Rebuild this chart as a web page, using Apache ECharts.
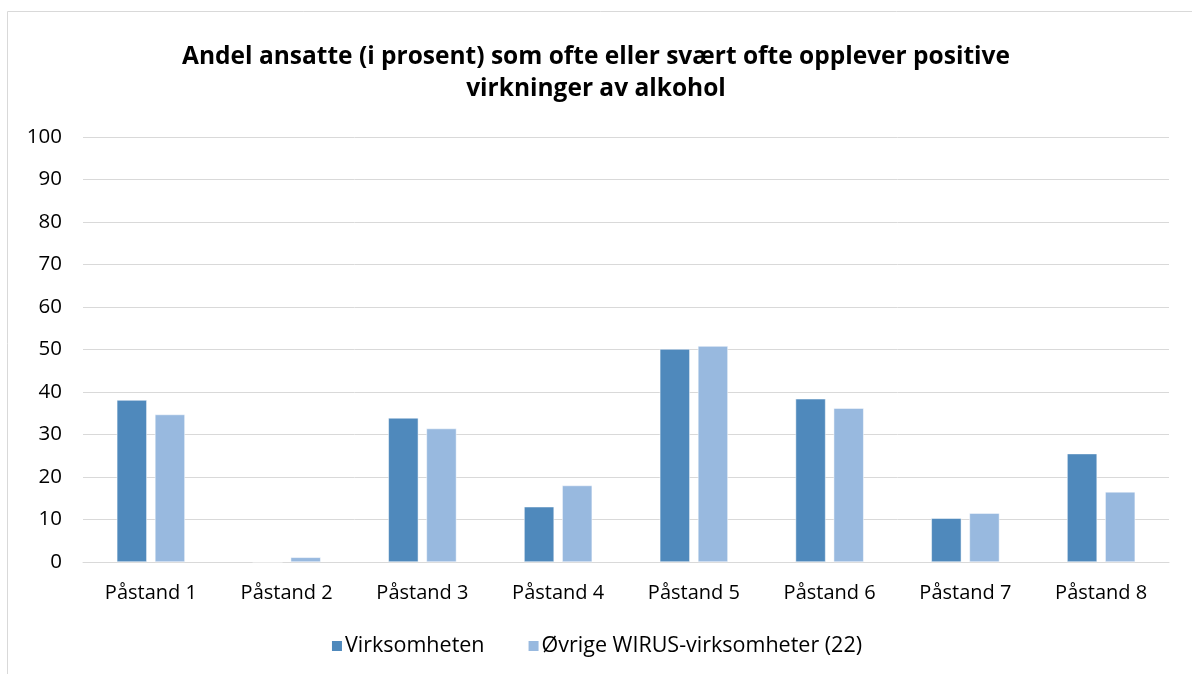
<!DOCTYPE html>
<html><head><meta charset="utf-8">
<script src="https://cdn.jsdelivr.net/npm/echarts@6/dist/echarts.min.js"></script>
<style>html,body{margin:0;padding:0;background:#fff}#c{width:1192px;height:674px}</style>
</head><body><div id="c"></div>
<script>
const categories = ['Påstand 1','Påstand 2','Påstand 3','Påstand 4','Påstand 5','Påstand 6','Påstand 7','Påstand 8'];
const virksomheten = [38.1, 0, 33.9, 13.0, 50.1, 38.4, 10.3, 25.5];
const ovrige = [34.7, 1.1, 31.4, 18.0, 50.8, 36.2, 11.5, 16.5];
const seriesNames = ['Virksomheten', 'Øvrige WIRUS-virksomheter (22)'];
const titleText = 'Andel ansatte (i prosent) som ofte eller svært ofte opplever positive\nvirkninger av alkohol';

const font = '"Open Sans", "Noto Sans", sans-serif';
const chart = echarts.init(document.getElementById('c'));
chart.setOption({
  animation: false,
  graphic: [{type:'rect', shape:{x:7.5,y:11.5,width:1200,height:700}, style:{fill:'none', stroke:'#d9d9d9', lineWidth:1}}],
  title: {text: titleText, left: 'center', top: 36,
    textStyle: {fontFamily: font, fontSize: 24.5, fontWeight: 'bold', color: '#000', lineHeight: 32}},
  legend: {bottom: 12, left: 'center', itemWidth: 12, itemHeight: 12, itemGap: 42,
    icon: 'rect',
    textStyle: {fontFamily: font, fontSize: 21.5, color: '#000', padding:[0,0,0,-3]}},
  grid: {left: 83, right: 23, top: 137, bottom: 112, containLabel: false},
  xAxis: {type: 'category', data: categories,
    axisLine: {lineStyle: {color: '#d9d9d9', width: 1}}, axisTick: {show: false},
    axisLabel: {fontFamily: font, fontSize: 20, color: '#000', margin: 21}},
  yAxis: {type: 'value', min: 0, max: 100, interval: 10,
    axisLine: {show: false}, axisTick: {show: false},
    splitLine: {lineStyle: {color: '#d9d9d9', width: 1}},
    axisLabel: {fontFamily: font, fontSize: 20.5, color: '#000', margin: 21}},
  series: [
    {name: seriesNames[0], type: 'bar', data: virksomheten, barWidth: 30, barGap: '27%',
     itemStyle: {color: '#4f89bc', borderColor: '#ffffff', borderWidth: 0.5}},
    {name: seriesNames[1], type: 'bar', data: ovrige, barWidth: 30,
     itemStyle: {color: '#98b9df', borderColor: '#ffffff', borderWidth: 0.5}}
  ]
});
</script></body></html>
